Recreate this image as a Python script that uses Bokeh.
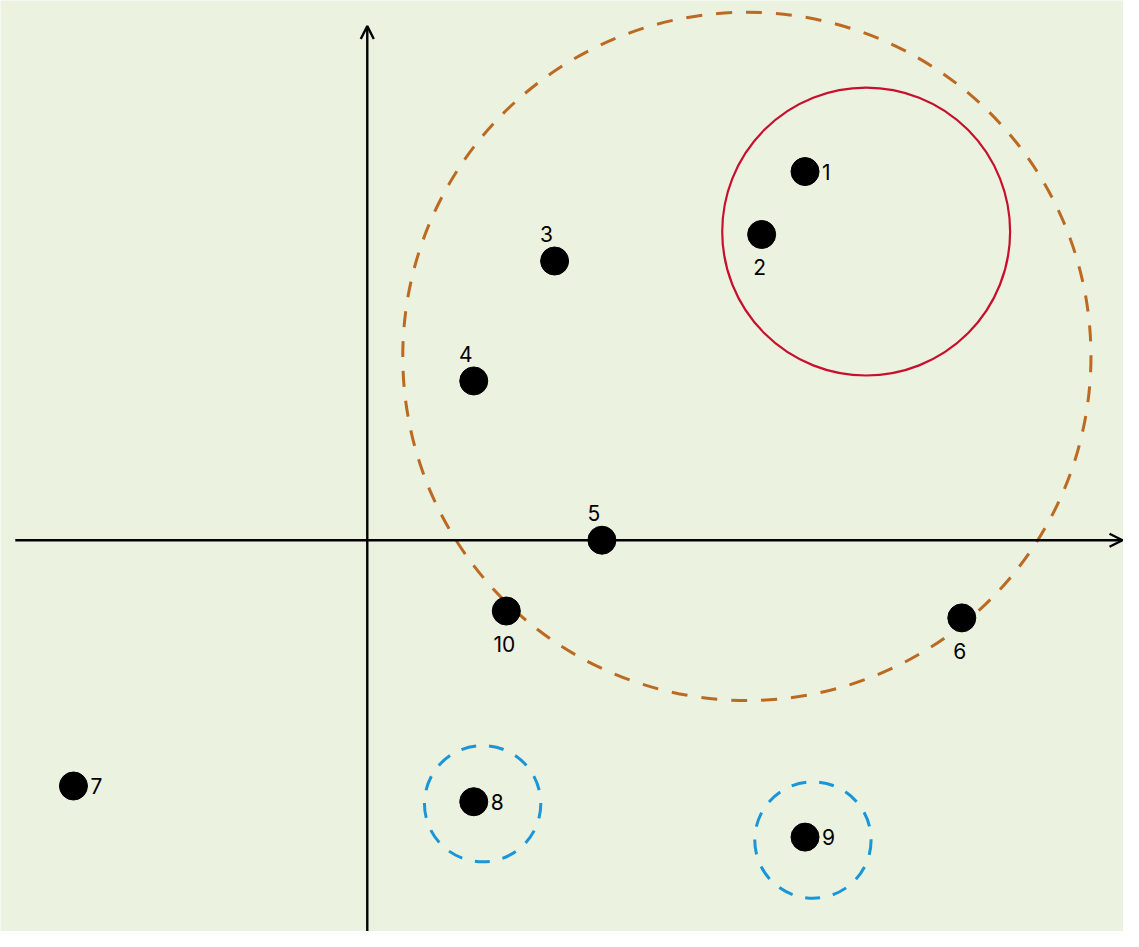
from bokeh.plotting import figure
from bokeh.models import Range1d, Arrow, OpenHead, ColumnDataSource
from bokeh.core.properties import value
from bokeh.embed import file_html
from bokeh.resources import INLINE

# ---- data ----
labels = ["1", "2", "3", "4", "5", "6", "7", "8", "9", "10"]
xs = [44.4, 40.0, 19.0, 10.8, 23.8, 60.3, -29.8, 10.8, 44.4, 14.1]
ys = [37.5, 31.1, 28.4, 16.2, 0.0, -7.9, -25.0, -26.6, -30.2, -7.2]
label_side = ["right", "below", "above", "above", "above", "below", "right", "right", "right", "below"]

red_circle_x = [50.6]
red_circle_y = [31.4]
red_circle_r = [14.6]

orange_circle_x = [38.5]
orange_circle_y = [18.7]
orange_circle_r = [34.9]

blue_circle_x = [11.7, 45.2]
blue_circle_y = [-26.8, -30.5]
blue_circle_r = [5.9, 5.9]

BG = "#EBF2DF"

p = figure(width=1123, height=931, output_backend="svg", toolbar_location=None,
           x_range=Range1d(-37.2, 76.7), y_range=Range1d(-39.8, 54.9),
           min_border=0, background_fill_color=BG, border_fill_color=BG,
           outline_line_color=None)
p.axis.visible = False
p.grid.visible = False

# axes with arrows
p.add_layout(Arrow(end=OpenHead(size=13, line_width=2.4, line_color="black"),
                   x_start=-35.7, y_start=0, x_end=76.6, y_end=0,
                   line_width=2.4, line_color="black"))
p.add_layout(Arrow(end=OpenHead(size=13, line_width=2.4, line_color="black"),
                   x_start=0, y_start=-40, x_end=0, y_end=52.3,
                   line_width=2.4, line_color="black"))

# circles
p.circle(x=orange_circle_x, y=orange_circle_y, radius=orange_circle_r,
         fill_color=None, line_color="#BC6A22", line_width=3, line_dash="16 14")
p.circle(x=red_circle_x, y=red_circle_y, radius=red_circle_r,
         fill_color=None, line_color="#C8102E", line_width=2.2)
p.circle(x=blue_circle_x, y=blue_circle_y, radius=blue_circle_r,
         fill_color=None, line_color="#1A96D8", line_width=3, line_dash="15 13")

# points
p.scatter(x=xs, y=ys, size=28, fill_color="black", line_color="black")

# labels (screen offsets: positive y_offset goes down)
offs = {"right": (17, 0, "left", "middle"),
        "below": (-2, 25, "center", "top"),
        "above": (-8, -19, "center", "bottom")}
for side in ("right", "below", "above"):
    idx = [i for i, s in enumerate(label_side) if s == side]
    if not idx:
        continue
    dx, dy, align, base = offs[side]
    src = ColumnDataSource(dict(x=[xs[i] for i in idx], y=[ys[i] for i in idx],
                                t=[labels[i] for i in idx]))
    p.text(x="x", y="y", text="t", source=src, x_offset=dx, y_offset=dy,
           text_align=align, text_baseline=base, text_font=value("Inter"),
           text_font_size="21px", text_color="black")

open("out.html", "w").write(file_html(p, INLINE))
